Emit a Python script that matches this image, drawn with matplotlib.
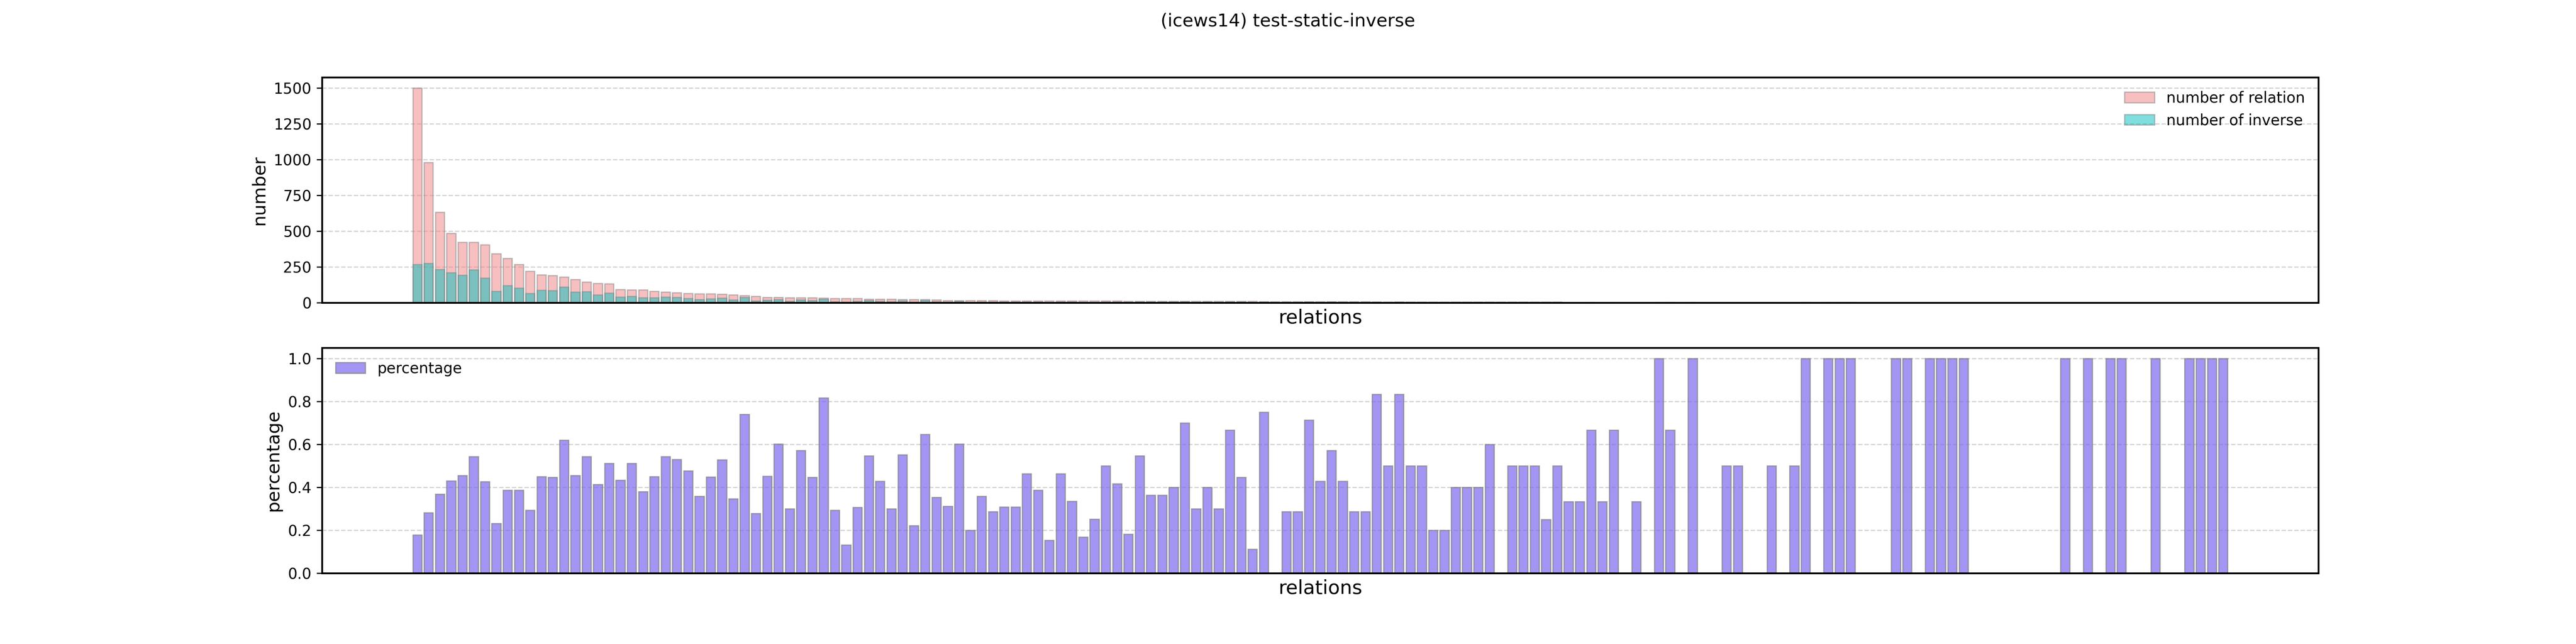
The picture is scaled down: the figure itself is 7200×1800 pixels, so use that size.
import numpy as np
import matplotlib
matplotlib.use("Agg")
import matplotlib.pyplot as plt

relation_counts = [1500, 979, 632, 485, 423, 423, 405, 342, 311, 268, 221, 195, 191, 179, 163, 144, 136, 132, 92, 89,
                   89, 79, 74, 71, 65, 62, 62, 60, 55, 50, 46, 38, 38, 34, 34, 34, 32, 29, 29, 29,
                   26, 26, 26, 22, 22, 22, 19, 16, 15, 15, 14, 14, 13, 13, 13, 13, 13, 13, 12, 12,
                   12, 12, 12, 11, 11, 11, 11, 10, 10, 10, 10, 10, 9, 9, 9, 8, 7, 7, 7, 7,
                   7, 7, 7, 7, 7, 6, 6, 6, 6, 6, 5, 5, 5, 5, 5, 5, 5, 4, 4, 4,
                   4, 4, 3, 3, 3, 3, 3, 3, 3, 3, 3, 3, 2, 2, 2, 2, 2, 2, 2, 2,
                   2, 2, 2, 2, 2, 2, 2, 2, 1, 1, 1, 1, 1, 1, 1, 1, 1, 1, 1, 1,
                   1, 1, 1, 1, 1, 1, 1, 1, 1, 1, 1, 1, 1, 1, 1, 1, 1, 1, 1, 1, 1]
inverse_counts = [268, 275, 233, 209, 192, 230, 173, 79, 120, 103, 65, 88, 85, 111, 74, 78, 56, 68, 40, 46,
                  34, 36, 40, 38, 31, 22, 28, 32, 19, 37, 13, 17, 23, 10, 19, 15, 26, 8, 4, 9,
                  14, 11, 8, 12, 5, 14, 7, 5, 9, 3, 5, 4, 4, 4, 6, 5, 2, 6, 4, 2,
                  3, 6, 5, 2, 6, 4, 4, 4, 7, 3, 4, 3, 6, 4, 1, 6, 0, 2, 2, 5,
                  3, 4, 3, 2, 2, 5, 3, 5, 3, 3, 1, 1, 2, 2, 2, 3, 0, 2, 2, 2,
                  1, 2, 1, 1, 2, 1, 2, 0, 1, 0, 3, 2, 0, 2, 0, 0, 1, 1, 0, 0,
                  1, 0, 1, 2, 0, 2, 2, 2, 0, 0, 0, 1, 1, 0, 1, 1, 1, 1, 0, 0,
                  0, 0, 0, 0, 0, 0, 1, 0, 1, 0, 1, 1, 0, 0, 1, 0, 0, 1, 1, 1, 1]
percentage = [0.179, 0.281, 0.368, 0.430, 0.455, 0.544, 0.427, 0.232, 0.386, 0.386,
              0.293, 0.450, 0.447, 0.620, 0.455, 0.544, 0.413, 0.512, 0.434, 0.512,
              0.380, 0.450, 0.544, 0.530, 0.476, 0.358, 0.448, 0.528, 0.347, 0.740,
              0.279, 0.451, 0.602, 0.300, 0.572, 0.447, 0.816, 0.293, 0.131, 0.307,
              0.546, 0.429, 0.300, 0.551, 0.222, 0.647, 0.354, 0.312, 0.601, 0.200,
              0.358, 0.286, 0.309, 0.309, 0.463, 0.386, 0.154, 0.463, 0.335, 0.168,
              0.251, 0.500, 0.417, 0.182, 0.546, 0.364, 0.364, 0.400, 0.700, 0.300,
              0.400, 0.300, 0.667, 0.447, 0.111, 0.750, 0.0, 0.286, 0.286, 0.714,
              0.429, 0.571, 0.429, 0.286, 0.286, 0.833, 0.5, 0.833, 0.5, 0.5,
              0.2, 0.2, 0.4, 0.4, 0.4, 0.6, 0.0, 0.5, 0.5, 0.5,
              0.25, 0.5, 0.333, 0.333, 0.667, 0.333, 0.667, 0.0, 0.333, 0.0,
              1.0, 0.667, 0.0, 1.0, 0.0, 0.0, 0.5, 0.5, 0.0, 0.0,
              0.5, 0.0, 0.5, 1.0, 0.0, 1.0, 1.0, 1.0, 0.0, 0.0,
              0.0, 1.0, 1.0, 0.0, 1.0, 1.0, 1.0, 1.0, 0.0, 0.0,
              0.0, 0.0, 0.0, 0.0, 0.0, 0.0, 1.0, 0.0, 1.0, 0.0,
              1.0, 1.0, 0.0, 0.0, 1.0, 0.0, 0.0, 1.0, 1.0, 1.0, 1.0]

x = np.arange(len(relation_counts))

fig, (ax1, ax2) = plt.subplots(2, 1, figsize=(24, 6), dpi=300)
fig.suptitle("(icews14) test-static-inverse", fontsize=12)

ax1.bar(x, relation_counts, color="lightcoral", alpha=0.5, edgecolor="gray", linewidth=0.8,
        label="number of relation")
ax1.bar(x, inverse_counts, color="c", alpha=0.5, edgecolor="gray", linewidth=0.8,
        label="number of inverse")
ax1.set_ylabel("number", fontsize=12)
ax1.set_xlabel("relations", fontsize=13)
ax1.set_xticks([])
ax1.grid(axis="y", linestyle="--", color="lightgray", linewidth=0.8)
ax1.set_axisbelow(True)
ax1.legend(loc="upper right", frameon=False)

ax2.bar(x, percentage, color="mediumslateblue", alpha=0.7, edgecolor="gray", linewidth=0.8,
        label="percentage")
ax2.set_ylabel("percentage", fontsize=12)
ax2.set_xlabel("relations", fontsize=13)
ax2.set_xticks([])
ax2.grid(axis="y", linestyle="--", color="lightgray", linewidth=0.8)
ax2.set_axisbelow(True)
ax2.legend(loc="upper left", frameon=False)

for ax in (ax1, ax2):
    for s in ax.spines.values():
        s.set_linewidth(1.2)

fig.savefig("out.png", dpi=300)
